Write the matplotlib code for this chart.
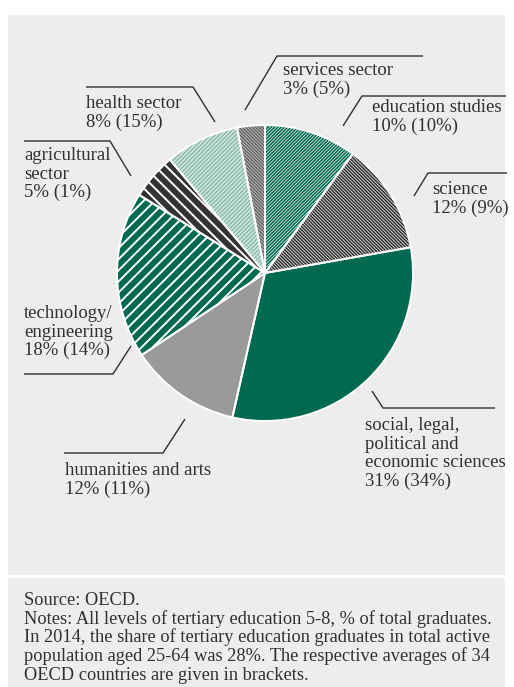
import matplotlib
matplotlib.use("Agg")
import matplotlib.pyplot as plt
from matplotlib.patches import Wedge, Rectangle

plt.rcParams['font.family'] = ['Liberation Serif', 'DejaVu Serif']

# Shares of tertiary graduates by field (clockwise from 12 o'clock)
fields = ["education studies", "science", "social, legal, political and economic sciences",
          "humanities and arts", "technology/engineering", "agricultural sector",
          "health sector", "services sector"]
shares = [10, 12, 31, 12, 18, 5, 8, 3]
oecd_avg = [10, 9, 34, 11, 14, 1, 15, 5]

face_colors = ["#006a50", "#333333", "#006a50", "#9a9a9a",
               "#006a50", "#333333", "#cde2d9", "#666666"]
hatches = ["/" * 10, "\\" * 10, None, None, "/" * 3, "\\" * 3, "/" * 8, "\\" * 10]
hatch_colors = ["#ffffff", "#ffffff", None, None, "#ffffff", "#ffffff", "#6fae97", "#d4d4d4"]
hatch_widths = [0.5, 0.5, None, None, 1.4, 1.4, 0.7, 0.5]

W, H = 514, 687
fig = plt.figure(figsize=(W / 100, H / 100), dpi=100, facecolor="white")
ax = fig.add_axes([0, 0, 1, 1])

def py(y):
    # top-down pixel row -> data y
    return H - y

ax.add_patch(Rectangle((8, 0), 497, H - 15, facecolor="#ededed", edgecolor="none", zorder=0))
ax.plot([8, 507], [py(576), py(576)], color="white", lw=2, zorder=1)

cx, cy, R = 265, py(273), 148
wedges, _ = ax.pie(shares, colors=face_colors, startangle=90, counterclock=False,
                   center=(cx, cy), radius=R,
                   wedgeprops=dict(edgecolor="none", linewidth=0))
for w in wedges:
    w.set_zorder(2)

for w, hatch, hc, hw in zip(wedges, hatches, hatch_colors, hatch_widths):
    if hatch is None:
        continue
    plt.rcParams['hatch.linewidth'] = hw
    hp = Wedge((cx, cy), R, w.theta1, w.theta2, facecolor="none",
               edgecolor=hc, linewidth=0, hatch=hatch, zorder=3)
    if hasattr(hp, "set_hatch_linewidth"):
        hp.set_hatch_linewidth(hw)
    ax.add_patch(hp)

for w in wedges:
    ax.add_patch(Wedge((cx, cy), R, w.theta1, w.theta2, facecolor="none",
                       edgecolor="white", linewidth=1.4, zorder=4))

ink = "#303030"
fs = 13.5
step = 18.7

# leader lines: list of (x, y) pixel points
leaders = [
    [(343, 126), (362, 96), (506, 96)],     # education
    [(414, 196), (428, 173), (507, 173)],   # science
    [(372, 391), (383, 408), (495, 408)],   # social
    [(185, 419), (163, 453), (64, 453)],    # humanities
    [(131, 346), (113, 374), (24, 374)],    # technology
    [(131, 176), (110, 141), (24, 141)],    # agricultural
    [(215, 122), (193, 87), (86, 87)],      # health
    [(245, 110), (277, 56), (423, 56)],     # services
]
label_lines = [
    ["education studies"],
    ["science"],
    ["social, legal,", "political and", "economic sciences"],
    ["humanities and arts"],
    ["technology/", "engineering"],
    ["agricultural", "sector"],
    ["health sector"],
    ["services sector"],
]
label_pos = [(372, 112), (432, 194), (365, 430), (65, 475),
             (24, 318), (24, 160), (86, 108), (283, 75)]

for pts, lines, (tx, ty), s, o in zip(leaders, label_lines, label_pos, shares, oecd_avg):
    xs = [p[0] for p in pts]
    ys = [py(p[1]) for p in pts]
    ax.plot(xs, ys, color=ink, lw=1.0, zorder=5, solid_capstyle="butt")
    rows = lines + [f"{s}% ({o}%)"]
    for i, row in enumerate(rows):
        ax.text(tx, py(ty + i * step), row, fontsize=fs, color=ink,
                ha="left", va="baseline", zorder=6)

footer = [
    "Source: OECD.",
    "Notes: All levels of tertiary education 5-8, % of total graduates.",
    "In 2014, the share of tertiary education graduates in total active",
    "population aged 25-64 was 28%. The respective averages of 34",
    "OECD countries are given in brackets.",
]
for i, row in enumerate(footer):
    ax.text(24, py(605 + i * step), row, fontsize=13.2, color=ink,
            ha="left", va="baseline", zorder=6)

ax.set_xlim(0, W)
ax.set_ylim(0, H)
ax.set_aspect("equal")
ax.axis("off")

fig.savefig("out.png", dpi=100, facecolor="white")
